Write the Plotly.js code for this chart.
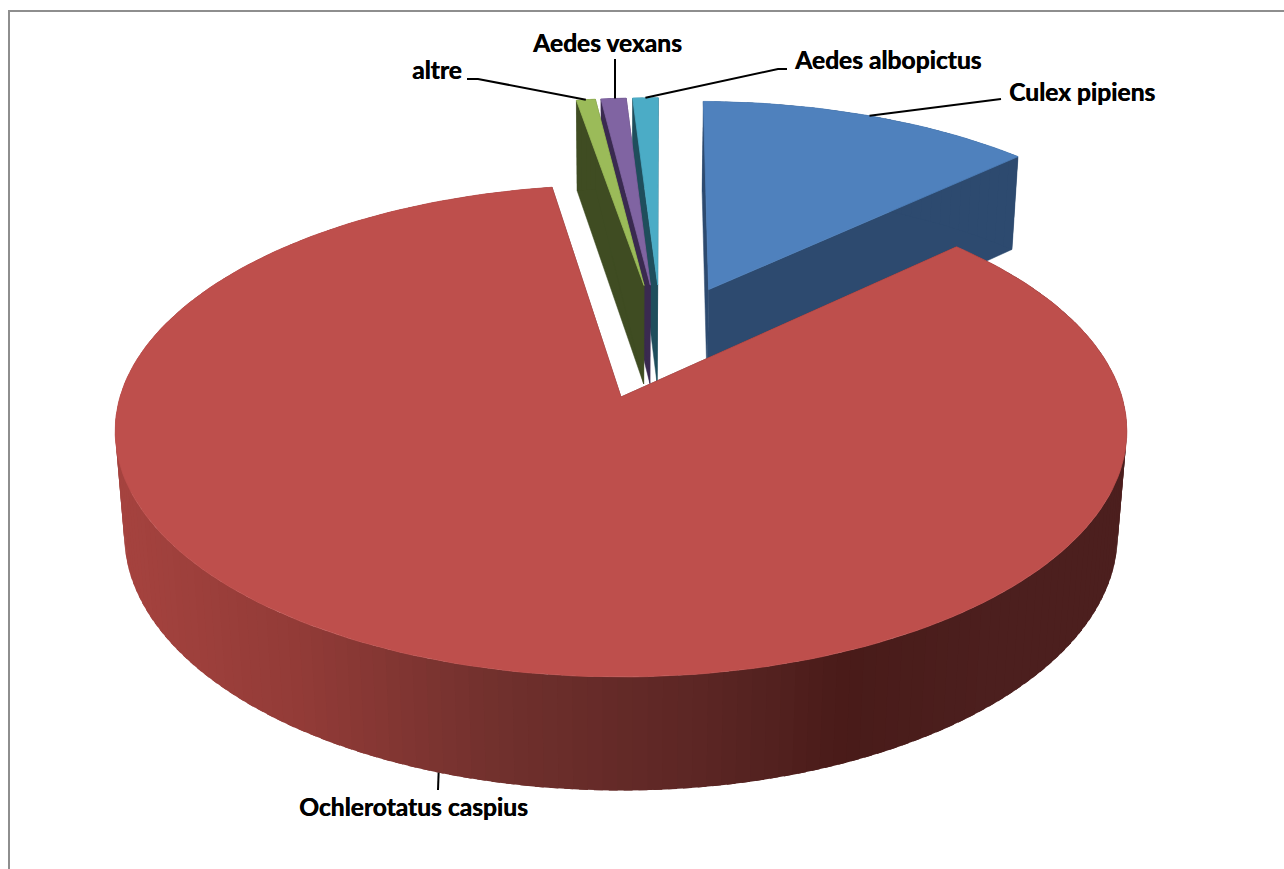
<!DOCTYPE html>
<html>
<head>
<meta charset="utf-8">
<script src="https://cdn.plot.ly/plotly-3.0.1.min.js"></script>
<style>html,body{margin:0;padding:0;background:#fff}</style>
</head>
<body>
<div id="chart" style="width:1284px;height:869px"></div>
<script>
// Mosquito species shares, in percent, clockwise from the first slice
const categories = ['Culex pipiens', 'Ochlerotatus caspius', 'altre', 'Aedes vexans', 'Aedes albopictus'];
const shareValues = [12.9, 84.42, 0.73, 0.97, 0.98];

// Face colours of each slice
const topColors = ['#4f81bd', '#be4f4c', '#9bbb59', '#8064a2', '#4bacc6'];
const wallColors = ['#2d4a6f', '#4c1f1e', '#3f4c22', '#3a2a50', '#1f4e5c'];

// Label text anchor (left edge, middle) and the elbow of each leader line
const labelX = [1007, 297, 410, 530, 792];
const labelY = [91, 806, 69, 42, 59];
const elbowX = [[1001], [438], [478, 467], [615], [778, 787]];
const elbowY = [[99], [790], [79, 79], [59], [69, 69]];
const leaderShift = [0, -0.2, 0, 0.2, 0];

// Lighting across the curved wall of the large slice: screen x -> rgb
const wallStops = [[110, [166, 67, 63]], [300, [146, 59, 55]], [500, [112, 48, 45]],
                   [700, [92, 38, 36]], [850, [73, 27, 25]], [1000, [76, 31, 30]], [1130, [76, 31, 30]]];

// Perspective camera and pie geometry
const firstAngle = 0.65, explode = 0.255;
const originX = 621, originY = 397, spanX = 501, spanZ = 241.3, depthK = 0.138;
const wallDrop = 105, wallFar = 1.018;

function project(x, z, lower) {
  const w = (lower ? wallFar : 1) + depthK * z;
  return [originX + spanX * x / w, originY + ((lower ? wallDrop : 0) - spanZ * z) / w];
}
const rad = d => d * Math.PI / 180;
const dir = d => [Math.sin(rad(d)), Math.cos(rad(d))];

const total = shareValues.reduce((a, b) => a + b, 0);
let running = firstAngle;
const slices = shareValues.map((v, i) => {
  const a0 = running, a1 = running + v / total * 360;
  running = a1;
  return {i, a0, a1, mid: (a0 + a1) / 2};
});
const refDir = dir(slices[1].mid);
slices.forEach(s => {
  const d = dir(s.mid);
  s.cx = explode * (d[0] - refDir[0]);
  s.cz = explode * (d[1] - refDir[1]);
  s.steps = Math.max(4, Math.ceil((s.a1 - s.a0) / 1.5));
});

function arcPoint(s, deg, lower) {
  const d = dir(deg);
  return project(s.cx + d[0], s.cz + d[1], lower);
}
function wallShade(x) {
  for (let j = 1; j < wallStops.length; j++) {
    if (x <= wallStops[j][0]) {
      const [x0, c0] = wallStops[j - 1], [x1, c1] = wallStops[j];
      const f = Math.max(0, (x - x0) / (x1 - x0));
      return 'rgb(' + c0.map((c, k) => Math.round(c + (c1[k] - c) * f)).join(',') + ')';
    }
  }
  return 'rgb(76,31,30)';
}
function polygon(pts, color, lineWidth) {
  return {
    type: 'scatter', mode: 'lines', fill: 'toself', fillcolor: color,
    x: pts.map(p => p[0]).concat(pts[0][0]), y: pts.map(p => p[1]).concat(pts[0][1]),
    line: {color: color, width: lineWidth}, hoverinfo: 'skip', showlegend: false
  };
}
function addWalls(s, out) {
  const i = s.i;
  const angleAt = k => s.a0 + (s.a1 - s.a0) * k / s.steps;
  const centreTop = project(s.cx, s.cz, false), centreLow = project(s.cx, s.cz, true);
  [s.a0, s.a1].forEach(a => {
    out.push(polygon([centreTop, arcPoint(s, a, false), arcPoint(s, a, true), centreLow], wallColors[i], 0.5));
  });
  // Curved wall: each band runs slightly under the next so no seams show
  for (let k = 0; k < s.steps; k++) {
    const far = Math.min(k + 1.6, s.steps);
    const p0 = arcPoint(s, angleAt(k), false), p1 = arcPoint(s, angleAt(far), false);
    const q1 = arcPoint(s, angleAt(far), true), q0 = arcPoint(s, angleAt(k), true);
    const mx = (arcPoint(s, angleAt(k), false)[0] + arcPoint(s, angleAt(k + 1), false)[0]) / 2;
    const colour = i === 1 ? wallShade(mx) : wallColors[i];
    out.push({...polygon([p0, p1, q1, q0], colour, 0), line: {width: 0, color: colour}});
  }
}
function addTop(s, out) {
  const pts = [project(s.cx, s.cz, false)];
  for (let k = 0; k <= s.steps; k++) pts.push(arcPoint(s, s.a0 + (s.a1 - s.a0) * k / s.steps, false));
  out.push(polygon(pts, topColors[s.i], 0.8));
}

// Back walls run right to left so each narrow slice overlaps its right neighbour;
// all tops follow, and the large slice goes over everything
const traces = [];
[slices[0], slices[4], slices[3], slices[2]].forEach(s => addWalls(s, traces));
[slices[0], slices[4], slices[3], slices[2]].forEach(s => addTop(s, traces));
addWalls(slices[1], traces);
addTop(slices[1], traces);

// Leader lines start on the rim of each slice
slices.forEach(s => {
  const start = arcPoint(s, s.mid + leaderShift[s.i], s.i === 1);
  traces.push({
    type: 'scatter', mode: 'lines',
    x: [start[0]].concat(elbowX[s.i]), y: [start[1]].concat(elbowY[s.i]),
    line: {color: '#000', width: 2}, hoverinfo: 'skip', showlegend: false
  });
});

const layout = {
  width: 1284, height: 869,
  margin: {l: 0, r: 0, t: 0, b: 0},
  paper_bgcolor: '#fff', plot_bgcolor: '#fff',
  showlegend: false,
  xaxis: {range: [0, 1284], visible: false, fixedrange: true},
  yaxis: {range: [869, 0], visible: false, fixedrange: true},
  annotations: categories.map((c, i) => ({
    x: labelX[i], y: labelY[i], xref: 'x', yref: 'y',
    text: c, showarrow: false, xanchor: 'left', yanchor: 'middle',
    font: {family: 'Lato, "Open Sans", sans-serif', size: 24.6, color: '#000', weight: 700, shadow: '0.5px 0 0 #000'}
  })),
  shapes: [{
    type: 'path', xref: 'x', yref: 'y', path: 'M 9 869 L 9 11 L 1284 11',
    line: {color: '#8e8e8e', width: 2}
  }]
};
Plotly.newPlot('chart', traces, layout, {displayModeBar: false, staticPlot: true});
</script>
</body>
</html>
